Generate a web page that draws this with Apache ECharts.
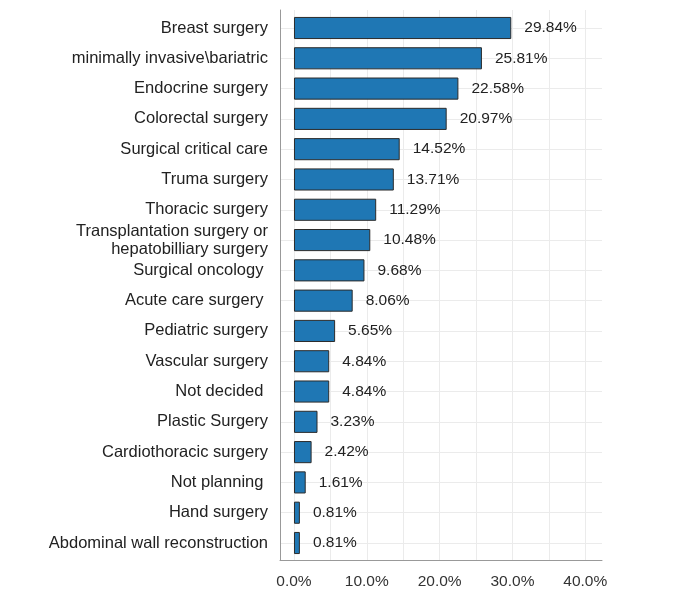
<!DOCTYPE html>
<html>
<head>
<meta charset="utf-8">
<script src="https://cdn.jsdelivr.net/npm/echarts@6/dist/echarts.min.js"></script>
<style>html,body{margin:0;padding:0;background:#fff;}#c{width:685px;height:604px;}</style>
</head>
<body>
<div id="c"></div>
<script>
const categories = [
  'Breast surgery',
  'minimally invasive\\bariatric',
  'Endocrine surgery',
  'Colorectal surgery',
  'Surgical critical care',
  'Truma surgery',
  'Thoracic surgery',
  'Transplantation surgery or\nhepatobilliary surgery',
  'Surgical oncology ',
  'Acute care surgery ',
  'Pediatric surgery',
  'Vascular surgery',
  'Not decided ',
  'Plastic Surgery',
  'Cardiothoracic surgery',
  'Not planning ',
  'Hand surgery',
  'Abdominal wall reconstruction'
];
const values = [29.84, 25.81, 22.58, 20.97, 14.52, 13.71, 11.29, 10.48, 9.68, 8.06, 5.65, 4.84, 4.84, 3.23, 2.42, 1.61, 0.81, 0.81];
const xTickLabels = [0, 10, 20, 30, 40];
const xGridValues = [0, 5, 10, 15, 20, 25, 30, 35, 40];

const XMIN = -1.92, XMAX = 42.3;
const FONT = "'Liberation Sans', Arial, sans-serif";
const chart = echarts.init(document.getElementById('c'), null, {renderer: 'canvas'});
chart.setOption({
  animation: false,
  backgroundColor: '#ffffff',
  grid: [
    {left: 280, width: 322, top: 10, height: 550, containLabel: false},
    {left: 280, width: 322, top: 12.85, height: 545.3, containLabel: false}
  ],
  xAxis: [
    {
      gridIndex: 0, type: 'value', min: XMIN, max: XMAX,
      axisLine: {show: true, onZero: false, lineStyle: {color: '#999999', width: 1}},
      axisTick: {show: false},
      splitLine: {show: false},
      axisLabel: {
        customValues: xTickLabels,
        formatter: v => v.toFixed(1) + '%',
        fontFamily: FONT, fontSize: 15.5, color: '#333333', margin: 14
      }
    },
    {gridIndex: 1, type: 'value', min: XMIN, max: XMAX, show: false}
  ],
  yAxis: [
    {
      gridIndex: 0, type: 'value', min: 0, max: 1,
      axisLine: {show: true, onZero: false, lineStyle: {color: '#999999', width: 1}},
      axisTick: {show: false}, axisLabel: {show: false}, splitLine: {show: false}
    },
    {
      gridIndex: 1, type: 'category', data: categories, inverse: true,
      axisLine: {show: false}, axisTick: {show: false}, splitLine: {show: false},
      axisLabel: {
        fontFamily: FONT, fontSize: 16.5, color: '#222222', margin: 12,
        lineHeight: 18, align: 'right'
      }
    }
  ],
  series: [
    {
      type: 'line', xAxisIndex: 0, yAxisIndex: 0, data: [], silent: true,
      markLine: {
        silent: true, z: 0, symbol: ['none', 'none'], label: {show: false},
        lineStyle: {color: '#ebebeb', width: 1, type: 'solid'},
        data: xGridValues.map(v => ({xAxis: v}))
      }
    },
    {
      type: 'line', xAxisIndex: 1, yAxisIndex: 1, data: [], silent: true,
      markLine: {
        silent: true, z: 0, symbol: ['none', 'none'], label: {show: false},
        lineStyle: {color: '#ebebeb', width: 1, type: 'solid'},
        data: categories.map((c, i) => ({yAxis: i}))
      }
    },
    {
      type: 'bar', xAxisIndex: 1, yAxisIndex: 1, data: values, z: 3,
      barWidth: '73%',
      itemStyle: {color: '#1f77b4', borderColor: '#2b2b2b', borderWidth: 1},
      label: {
        show: true, position: 'right', distance: 13,
        formatter: p => p.value.toFixed(2) + '%',
        fontFamily: FONT, fontSize: 15.5, color: '#222222'
      }
    }
  ]
});
</script>
</body>
</html>
